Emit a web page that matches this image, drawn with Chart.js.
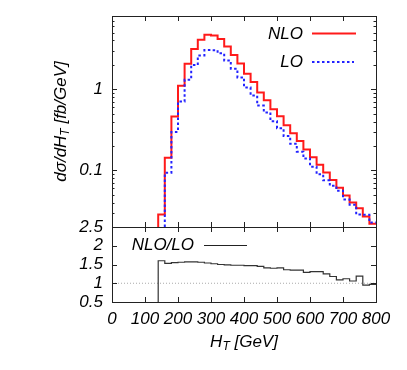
<!DOCTYPE html>
<html><head><meta charset="utf-8">
<script src="https://cdn.jsdelivr.net/npm/chart.js@4.4.1/dist/chart.umd.min.js"></script>
<style>
html,body{margin:0;padding:0;background:#fff;}
#wrap{position:relative;width:407px;height:370px;background:#fff;}
canvas{position:absolute;left:0;top:0;}
</style></head><body>
<div id="wrap">
<canvas id="cTop" width="407" height="228"></canvas>
<canvas id="cBot" width="407" height="370"></canvas>
</div>
<script>
// ---- data ----
const binEdges = [120,140,160,180,200,220,240,260,280,300,320,340,360,380,400,420,440,460,480,500,
                  520,540,560,580,600,620,640,660,680,700,720,740,760,780,800];
const nloValues = [0.001,0.0285,0.143,0.46,1.10,2.06,3.13,4.07,4.69,4.60,4.15,3.37,2.65,2.07,1.55,1.23,0.91,0.73,0.565,0.465,
                   0.36,0.287,0.23,0.18,0.145,0.117,0.094,0.076,0.061,0.049,0.040,0.034,0.027,0.022];
const loValues  = [0.004,0.0178,0.0935,0.297,0.705,1.31,1.99,2.61,3.05,3.03,2.77,2.26,1.79,1.40,1.05,0.837,0.628,0.518,0.404,0.330,
                   0.265,0.213,0.170,0.140,0.111,0.0893,0.0752,0.0644,0.056,0.0438,0.0377,0.0286,0.0284,0.0227];
const ratioValues = [0.25,1.60,1.53,1.55,1.56,1.57,1.57,1.56,1.54,1.52,1.50,1.49,1.48,1.48,1.47,1.47,1.45,1.41,1.40,1.41,
                     1.36,1.35,1.35,1.29,1.31,1.31,1.25,1.18,1.09,1.12,1.06,1.19,0.95,0.97];
const xTickValues = [0,100,200,300,400,500,600,700,800];
const yLogLabels = [0.1, 1];
const yRatioTicks = [0.5, 1, 1.5, 2, 2.5];
const referenceLine = [1, 1];

// ---- helpers ----
function histPoints(edges, vals) {
  const pts = [];
  vals.forEach((v, i) => { pts.push({x: edges[i], y: v}); pts.push({x: edges[i+1], y: v}); });
  return pts;
}
const FONT_FAMILY = '"Liberation Sans", Arial, sans-serif';
const tickFont = {family: '"Liberation Sans", Arial, sans-serif', size: 17, style: 'italic'};
function f(sz) { return 'italic ' + sz + 'px ' + FONT_FAMILY; }

function drawSubText(ctx, parts, cx, cy) {
  let total = 0;
  parts.forEach(p => { ctx.font = f(p.sub ? 12 : 17); p.w = ctx.measureText(p.t).width; total += p.w; });
  let x = cx - total / 2;
  parts.forEach(p => {
    ctx.font = f(p.sub ? 12 : 17);
    ctx.fillText(p.t, x, cy + (p.sub ? 5 : 0));
    x += p.w;
  });
}

function frameTicksPlugin(yTickList) {
  return {
    id: 'frameTicks',
    afterDatasetsDraw(chart) {
      const {ctx, chartArea: a, scales} = chart;
      const xs = scales.x, ys = scales.y;
      ctx.save();
      ctx.strokeStyle = '#222';
      ctx.lineWidth = 1;
      ctx.beginPath();
      xTickValues.forEach(v => {
        const px = Math.round(xs.getPixelForValue(v)) + 0.5;
        ctx.moveTo(px, a.bottom); ctx.lineTo(px, a.bottom - 5);
        ctx.moveTo(px, a.top); ctx.lineTo(px, a.top + 5);
      });
      yTickList.forEach(t => {
        const py = Math.round(ys.getPixelForValue(t.v)) + 0.5;
        const L = t.major ? 5 : 2.5;
        ctx.moveTo(a.left, py); ctx.lineTo(a.left + L, py);
        ctx.moveTo(a.right, py); ctx.lineTo(a.right - L, py);
      });
      ctx.stroke();
      ctx.strokeRect(Math.round(a.left) + 0.5, Math.round(a.top) + 0.5,
                     Math.round(a.right - a.left), Math.round(a.bottom - a.top));
      ctx.restore();
    }
  };
}

const logTicks = [];
[-2, -1, 0].forEach(d => {
  for (let m = 1; m <= 9; m++) {
    const v = m * Math.pow(10, d);
    if (v >= 0.02 && v <= 8) logTicks.push({v, major: m === 1});
  }
});

const topPlugin = {
  id: 'topDecor',
  afterDraw(chart) {
    const ctx = chart.ctx;
    ctx.save();
    ctx.fillStyle = '#000';
    ctx.textBaseline = 'middle';
    ctx.textAlign = 'right';
    ctx.font = f(17);
    ctx.fillText('NLO', 303, 34);
    ctx.fillText('LO', 303, 62);
    ctx.lineWidth = 2;
    ctx.strokeStyle = '#ff1a1a';
    ctx.beginPath(); ctx.moveTo(312, 33.5); ctx.lineTo(356, 33.5); ctx.stroke();
    ctx.strokeStyle = '#2222ff';
    ctx.setLineDash([2.5, 2.5]);
    ctx.beginPath(); ctx.moveTo(312, 62); ctx.lineTo(354, 62); ctx.stroke();
    ctx.setLineDash([]);
    ctx.translate(61, 121.5);
    ctx.rotate(-Math.PI / 2);
    ctx.textAlign = 'left';
    drawSubText(ctx, [{t: 'dσ/dH'}, {t: 'T', sub: true}, {t: ' [fb/GeV]'}], 0, 0);
    ctx.restore();
  }
};

const botPlugin = {
  id: 'botDecor',
  afterDraw(chart) {
    const ctx = chart.ctx;
    ctx.save();
    ctx.fillStyle = '#000';
    ctx.textBaseline = 'middle';
    ctx.textAlign = 'right';
    ctx.font = f(17);
    ctx.fillText('NLO/LO', 194, 245);
    ctx.strokeStyle = '#222';
    ctx.lineWidth = 1;
    ctx.beginPath(); ctx.moveTo(204, 245.5); ctx.lineTo(247, 245.5); ctx.stroke();
    ctx.textAlign = 'left';
    const a = chart.chartArea;
    drawSubText(ctx, [{t: 'H'}, {t: 'T', sub: true}, {t: ' [GeV]'}], (a.left + a.right) / 2, 342);
    ctx.restore();
  }
};

function fixY(s) { s.width = 112; s.paddingTop = 0; s.paddingBottom = 0; }

new Chart(document.getElementById('cTop'), {
  type: 'line',
  data: {
    datasets: [
      {label: 'LO', data: histPoints(binEdges, loValues), borderColor: '#2222ff', borderWidth: 2,
       borderDash: [2.5, 2.5], pointRadius: 0, tension: 0, fill: false, order: 1},
      {label: 'NLO', data: histPoints(binEdges, nloValues), borderColor: '#ff1a1a', borderWidth: 2,
       pointRadius: 0, tension: 0, fill: false, order: 2}
    ]
  },
  options: {
    responsive: false, animation: false, devicePixelRatio: 1,
    layout: {padding: {left: 0, right: 31, top: 16, bottom: 1}},
    plugins: {legend: {display: false}, tooltip: {enabled: false}},
    scales: {
      x: {type: 'linear', min: 0, max: 800, display: false},
      y: {
        type: 'logarithmic', min: 0.02, max: 8,
        afterBuildTicks: s => { s.ticks = yLogLabels.map(v => ({value: v})); },
        afterFit: fixY,
        grid: {display: false, drawTicks: false},
        border: {display: false},
        ticks: {font: tickFont, color: '#000', padding: 9, autoSkip: false,
                callback: v => String(v)}
      }
    }
  },
  plugins: [frameTicksPlugin(logTicks), topPlugin]
});

new Chart(document.getElementById('cBot'), {
  type: 'line',
  data: {
    datasets: [
      {label: 'NLO/LO', data: histPoints(binEdges, ratioValues), borderColor: '#333', borderWidth: 1.2,
       pointRadius: 0, tension: 0, fill: false, order: 1},
      {label: 'ref', data: [{x: 0, y: referenceLine[0]}, {x: 800, y: referenceLine[1]}], borderColor: '#aaa',
       borderWidth: 1, borderDash: [1, 2], pointRadius: 0, fill: false, order: 2}
    ]
  },
  options: {
    responsive: false, animation: false, devicePixelRatio: 1,
    layout: {padding: {left: 0, right: 31, top: 227, bottom: 0}},
    plugins: {legend: {display: false}, tooltip: {enabled: false}},
    scales: {
      x: {
        type: 'linear', min: 0, max: 800,
        afterBuildTicks: s => { s.ticks = xTickValues.map(v => ({value: v})); },
        afterFit: s => { s.height = 68; s.paddingLeft = 0; s.paddingRight = 0; },
        grid: {display: false, drawTicks: false},
        border: {display: false},
        ticks: {font: tickFont, color: '#000', padding: 7, autoSkip: false, maxRotation: 0,
                callback: v => String(v)}
      },
      y: {
        type: 'linear', min: 0.5, max: 2.5,
        afterBuildTicks: s => { s.ticks = yRatioTicks.map(v => ({value: v})); },
        afterFit: fixY,
        grid: {display: false, drawTicks: false},
        border: {display: false},
        ticks: {font: tickFont, color: '#000', padding: 9, autoSkip: false,
                callback: v => String(v)}
      }
    }
  },
  plugins: [frameTicksPlugin(yRatioTicks.map(v => ({v, major: true}))), botPlugin]
});
</script>
</body></html>
